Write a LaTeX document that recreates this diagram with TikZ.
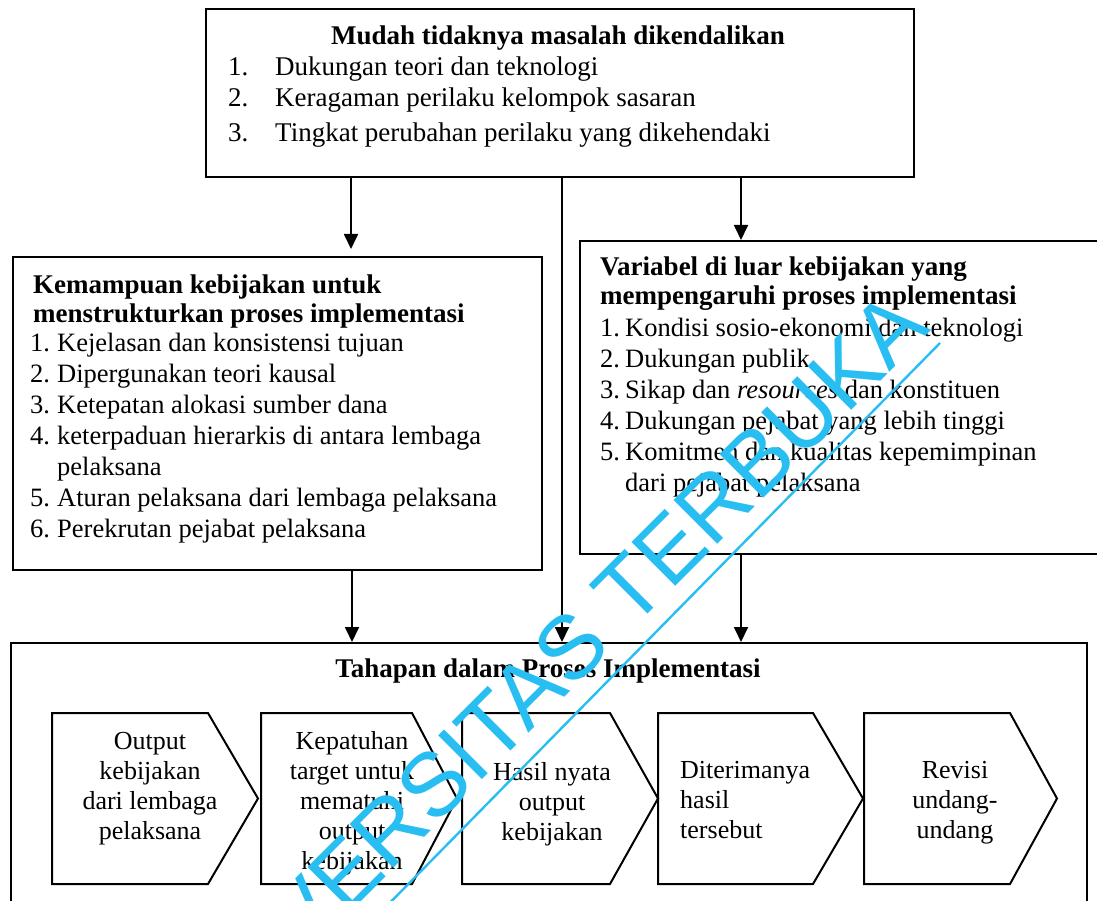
\documentclass[tikz,border=0pt]{standalone}
\usepackage{fontspec}
\setmainfont{Liberation Serif}
\newfontfamily\wmfont{Liberation Sans}
\usetikzlibrary{arrows.meta}
\definecolor{wmcyan}{RGB}{40,190,242}
\newcommand\numbox[2]{\makebox[#1][l]{#2}}
\tikzset{
  x=1pt, y=1pt,
  frame/.style={draw, line width=2.3pt, inner sep=0pt, anchor=north west},
  flow/.style={line width=1.8pt, -{Triangle[length=15pt,width=14pt]}},
  chev/.style={draw, line width=2pt, line join=miter},
  txt/.style={inner sep=0pt, align=left, anchor=north west,
              font=\fontsize{26.5}{31}\selectfont},
  head/.style={inner sep=0pt, align=left, anchor=north west,
               font=\fontsize{27}{29}\selectfont\bfseries},
  ctxt/.style={inner sep=0pt, align=center, anchor=north,
               font=\fontsize{26}{30}\selectfont},
}
\begin{document}
\begin{tikzpicture}
\useasboundingbox (0,0) rectangle (1097,-901);
\begin{scope}
\clip (0,0) rectangle (1097,-901);

% boxes
\node[frame, minimum width=708pt, minimum height=168pt] (top) at (205,-8) {};
\node[frame, minimum width=529pt, minimum height=313pt] (left) at (12,-256) {};
\node[frame, minimum width=540pt, minimum height=313pt] (right) at (579,-240) {};
\node[frame, minimum width=1076pt, minimum height=280pt] (stages) at (10,-642) {};

% top box text
\node[inner sep=0pt, anchor=base, font=\fontsize{27}{29}\selectfont\bfseries]
  (toptitle) at (558,-45) {Mudah tidaknya masalah dikendalikan};
\node[txt, font=\fontsize{27}{31}\selectfont] (toplist) at (228,-57) {%
  \numbox{47pt}{1.}Dukungan teori dan teknologi\\
  \numbox{47pt}{2.}Keragaman perilaku kelompok sasaran\\[4pt]
  \numbox{47pt}{3.}Tingkat perubahan perilaku yang dikehendaki};

% left box text
\node[head] (lefttitle) at (33,-275) {Kemampuan kebijakan untuk\\
  menstrukturkan proses implementasi};
\node[txt] (leftlist) at (30,-333) {%
  \numbox{27pt}{1.}Kejelasan dan konsistensi tujuan\\
  \numbox{27pt}{2.}Dipergunakan teori kausal\\
  \numbox{27pt}{3.}Ketepatan alokasi sumber dana\\
  \numbox{27pt}{4.}keterpaduan hierarkis di antara lembaga\\
  \numbox{27pt}{}pelaksana\\
  \numbox{27pt}{5.}Aturan pelaksana dari lembaga pelaksana\\
  \numbox{27pt}{6.}Perekrutan pejabat pelaksana};

% right box text
\node[head] (righttitle) at (600,-257) {Variabel di luar kebijakan yang\\
  mempengaruhi proses implementasi};
\node[txt] (rightlist) at (600,-318) {%
  \numbox{25pt}{1.}Kondisi sosio-ekonomi dan teknologi\\
  \numbox{25pt}{2.}Dukungan publik\\
  \numbox{25pt}{3.}Sikap dan \textit{resources} dan konstituen\\
  \numbox{25pt}{4.}Dukungan pejabat yang lebih tinggi\\
  \numbox{25pt}{5.}Komitmen dan kualitas kepemimpinan\\
  \numbox{25pt}{}dari pejabat pelaksana};

% stages
\node[inner sep=0pt, anchor=base, font=\fontsize{27}{29}\selectfont\bfseries]
  (stagetitle) at (548,-677) {Tahapan dalam Proses Implementasi};

\draw[chev] (52,-713) -- (208,-713) -- (258,-798.5) -- (208,-884) -- (52,-884) -- cycle;
\draw[chev] (261,-713) -- (412,-713) -- (457,-798.5) -- (412,-884) -- (261,-884) -- cycle;
\draw[chev] (462,-713) -- (610,-713) -- (658,-798.5) -- (610,-884) -- (462,-884) -- cycle;
\draw[chev] (658,-713) -- (813,-713) -- (863,-798.5) -- (813,-884) -- (658,-884) -- cycle;
\draw[chev] (864,-713) -- (1010,-713) -- (1057,-798.5) -- (1010,-884) -- (864,-884) -- cycle;

\node[ctxt] (s1) at (150,-732) {Output\\kebijakan\\dari lembaga\\pelaksana};
\node[ctxt] (s2) at (352,-731) {Kepatuhan\\target untuk\\mematuhi\\output\\kebijakan};
\node[ctxt] (s3) at (552,-762) {Hasil nyata\\output\\kebijakan};
\node[txt, font=\fontsize{26}{30}\selectfont] (s4) at (680,-761) {Diterimanya\\hasil\\tersebut};
\node[ctxt] (s5) at (955,-761) {Revisi\\undang-\\undang};

% connectors
\draw[flow] ([xshift=146pt]top.south west) -- ([xshift=339pt,yshift=7pt]left.north west);
\draw[flow] ([xshift=357pt]top.south west) -- ([xshift=552pt]stages.north west);
\draw[flow] ([xshift=536pt]top.south west) -- ([xshift=162pt]right.north west);
\draw[flow] ([xshift=340pt]left.south west) -- ([xshift=342pt]stages.north west);
\draw[flow] ([xshift=162pt]right.south west) -- ([xshift=731pt]stages.north west);

% watermark
\draw[wmcyan, line width=2.4pt] (940,-343) -- ++(225.5:820);
\node[wmcyan, inner sep=0pt, anchor=base east, rotate=45,
      font=\fontsize{90}{90}\selectfont\wmfont] (wm) at (932,-330) {UNIVERSITAS TERBUKA};
\end{scope}
\end{tikzpicture}
\end{document}
